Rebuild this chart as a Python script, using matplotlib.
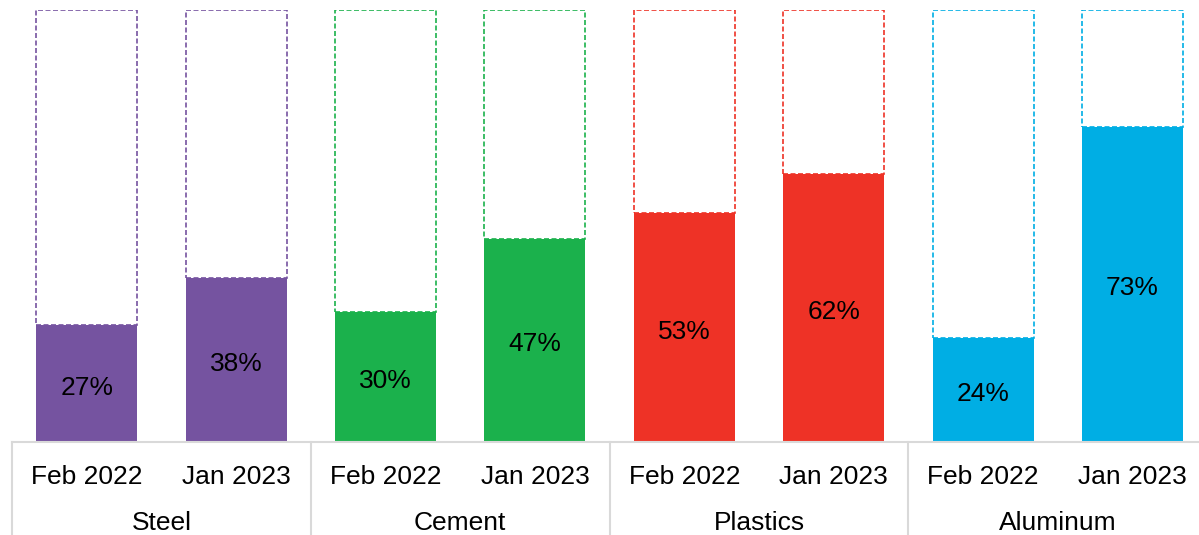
import matplotlib
matplotlib.use("Agg")
import matplotlib.pyplot as plt
from matplotlib.transforms import blended_transform_factory, offset_copy

categories = ["Steel", "Cement", "Plastics", "Aluminum"]
periods = ["Feb 2022", "Jan 2023"]
values = {
    "Steel": [27, 38],
    "Cement": [30, 47],
    "Plastics": [53, 62],
    "Aluminum": [24, 73],
}
colors = ["#7553A0", "#1BB14C", "#EE3226", "#00AEE4"]

plt.rcParams['font.family'] = ['Liberation Sans', 'DejaVu Sans']

W, H = 1199, 535
fig = plt.figure(figsize=(W / 100, H / 100), dpi=100)
left_px, base_px, top_px = 12, 442, 10
slot = 149.4
ax = fig.add_axes([left_px / W, (H - base_px) / H, 8 * slot / W, (base_px - top_px) / H])

bw = 0.675
grey = "#D9D9D9"
val_trans = offset_copy(ax.transData, fig=fig, x=0, y=-4, units='dots')
for gi, cat in enumerate(categories):
    col = colors[gi]
    for pi, v in enumerate(values[cat]):
        x = gi * 2 + pi
        frac = v / 100
        ax.bar(x, frac, width=bw, color=col, zorder=2)
        ax.bar(x, 1 - frac, bottom=frac, width=bw, facecolor="white",
               edgecolor=col, linestyle=(0, (3, 1.5)), linewidth=1.2, zorder=3)
        ax.text(x, frac / 2, f"{v}%", ha="center", va="center",
                fontsize=19, color="black", zorder=4, transform=val_trans)

ax.set_xlim(-0.5, 7.5)
ax.set_ylim(0, 1)
for s in ["left", "right", "top"]:
    ax.spines[s].set_visible(False)
ax.spines["bottom"].set_color(grey)
ax.spines["bottom"].set_linewidth(1.5)
ax.set_xticks([])
ax.set_yticks([])

trans = blended_transform_factory(ax.transData, ax.transAxes)
sep_len = (H - base_px + 5) / (base_px - top_px)
for b in [-0.5, 1.5, 3.5, 5.5, 7.5]:
    ax.plot([b, b], [0, -sep_len], color=grey, linewidth=1.5,
            transform=trans, clip_on=False)

tick_y = -35 / (base_px - top_px)
cat_y = -81 / (base_px - top_px)
for gi, cat in enumerate(categories):
    for pi, p in enumerate(periods):
        ax.text(gi * 2 + pi, tick_y, p, ha="center", va="center",
                fontsize=19, transform=trans)
    ax.text(gi * 2 + 0.5, cat_y, cat, ha="center", va="center",
            fontsize=19, transform=trans)

fig.savefig("out.png", dpi=100)
